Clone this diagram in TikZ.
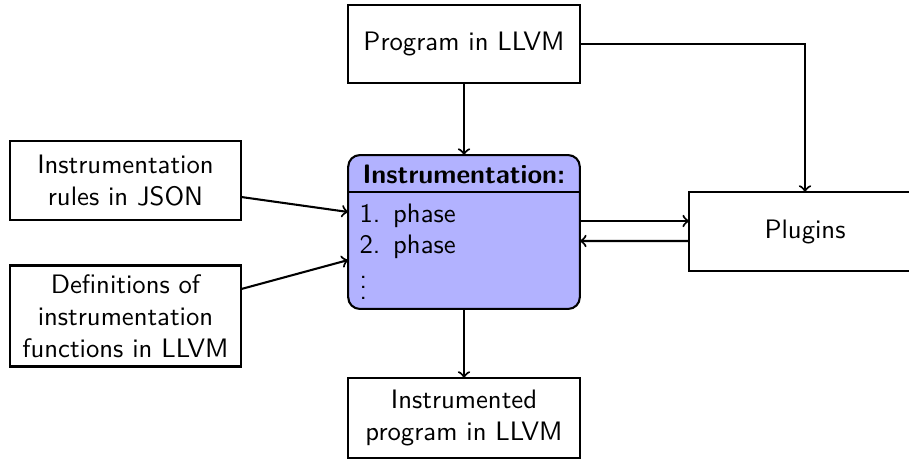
\documentclass[tikz,border=0pt]{standalone}
\usetikzlibrary{calc}
\begin{document}
\begin{tikzpicture}[x=0.386pt,y=-0.386pt,
  font=\fontsize{10.3}{12.4}\selectfont\sffamily,
  box/.style={draw,line width=0.8pt,inner sep=0pt,outer sep=0pt,align=center,minimum width=89.4pt},
  item/.style={anchor=base west,inner sep=0pt},
  arr/.style={->,line width=0.8pt}]
\useasboundingbox (0,0) rectangle (909,460);
\clip (0,0) rectangle (909,460);
\node[box,minimum height=30.1pt] (prog) at (464,44) {Program in LLVM};
\node[box,minimum height=30.5pt] (rules) at (125.5,180.5) {Instrumentation\\rules in JSON};
\node[box,minimum height=39pt] (defs) at (125.5,316) {Definitions of\\instrumentation\\functions in LLVM};
\node[box,minimum height=30.5pt] (plug) at (805,231.5) {Plugins};
\node[box,minimum height=30.9pt] (out) at (464,418) {Instrumented\\program in LLVM};
\node[box,fill=blue!30,rounded corners=4.5pt,minimum height=59.4pt] (instr) at (464,232) {};
\coordinate (dl) at (349,192);
\coordinate (dr) at (579,192);
\draw[line width=0.5pt] (dl) -- (dr);
\node[font=\fontsize{10.3}{12.4}\selectfont\sffamily\bfseries] (head) at (464,174) {Instrumentation:};
\node[item] (i1) at (359,222) {\makebox[13pt][l]{1.}phase};
\node[item] (i2) at (359,253) {\makebox[13pt][l]{2.}phase};
\node[item] (i3) at (359,299) {$\vdots$};
\draw[arr] (prog.south) -- (instr.north);
\draw[arr] (prog.east) -| (plug.north);
\draw[arr] ($(rules.east)+(0,16.5)$) -- ($(instr.west)+(0,-20)$);
\draw[arr] ($(defs.east)+(0,-27)$) -- ($(instr.west)+(0,28)$);
\draw[arr] ($(instr.east)+(0,-11)$) -- ($(plug.west)+(0,-10.5)$);
\draw[arr] ($(plug.west)+(0,9.5)$) -- ($(instr.east)+(0,9)$);
\draw[arr] (instr.south) -- (out.north);
\end{tikzpicture}
\end{document}
